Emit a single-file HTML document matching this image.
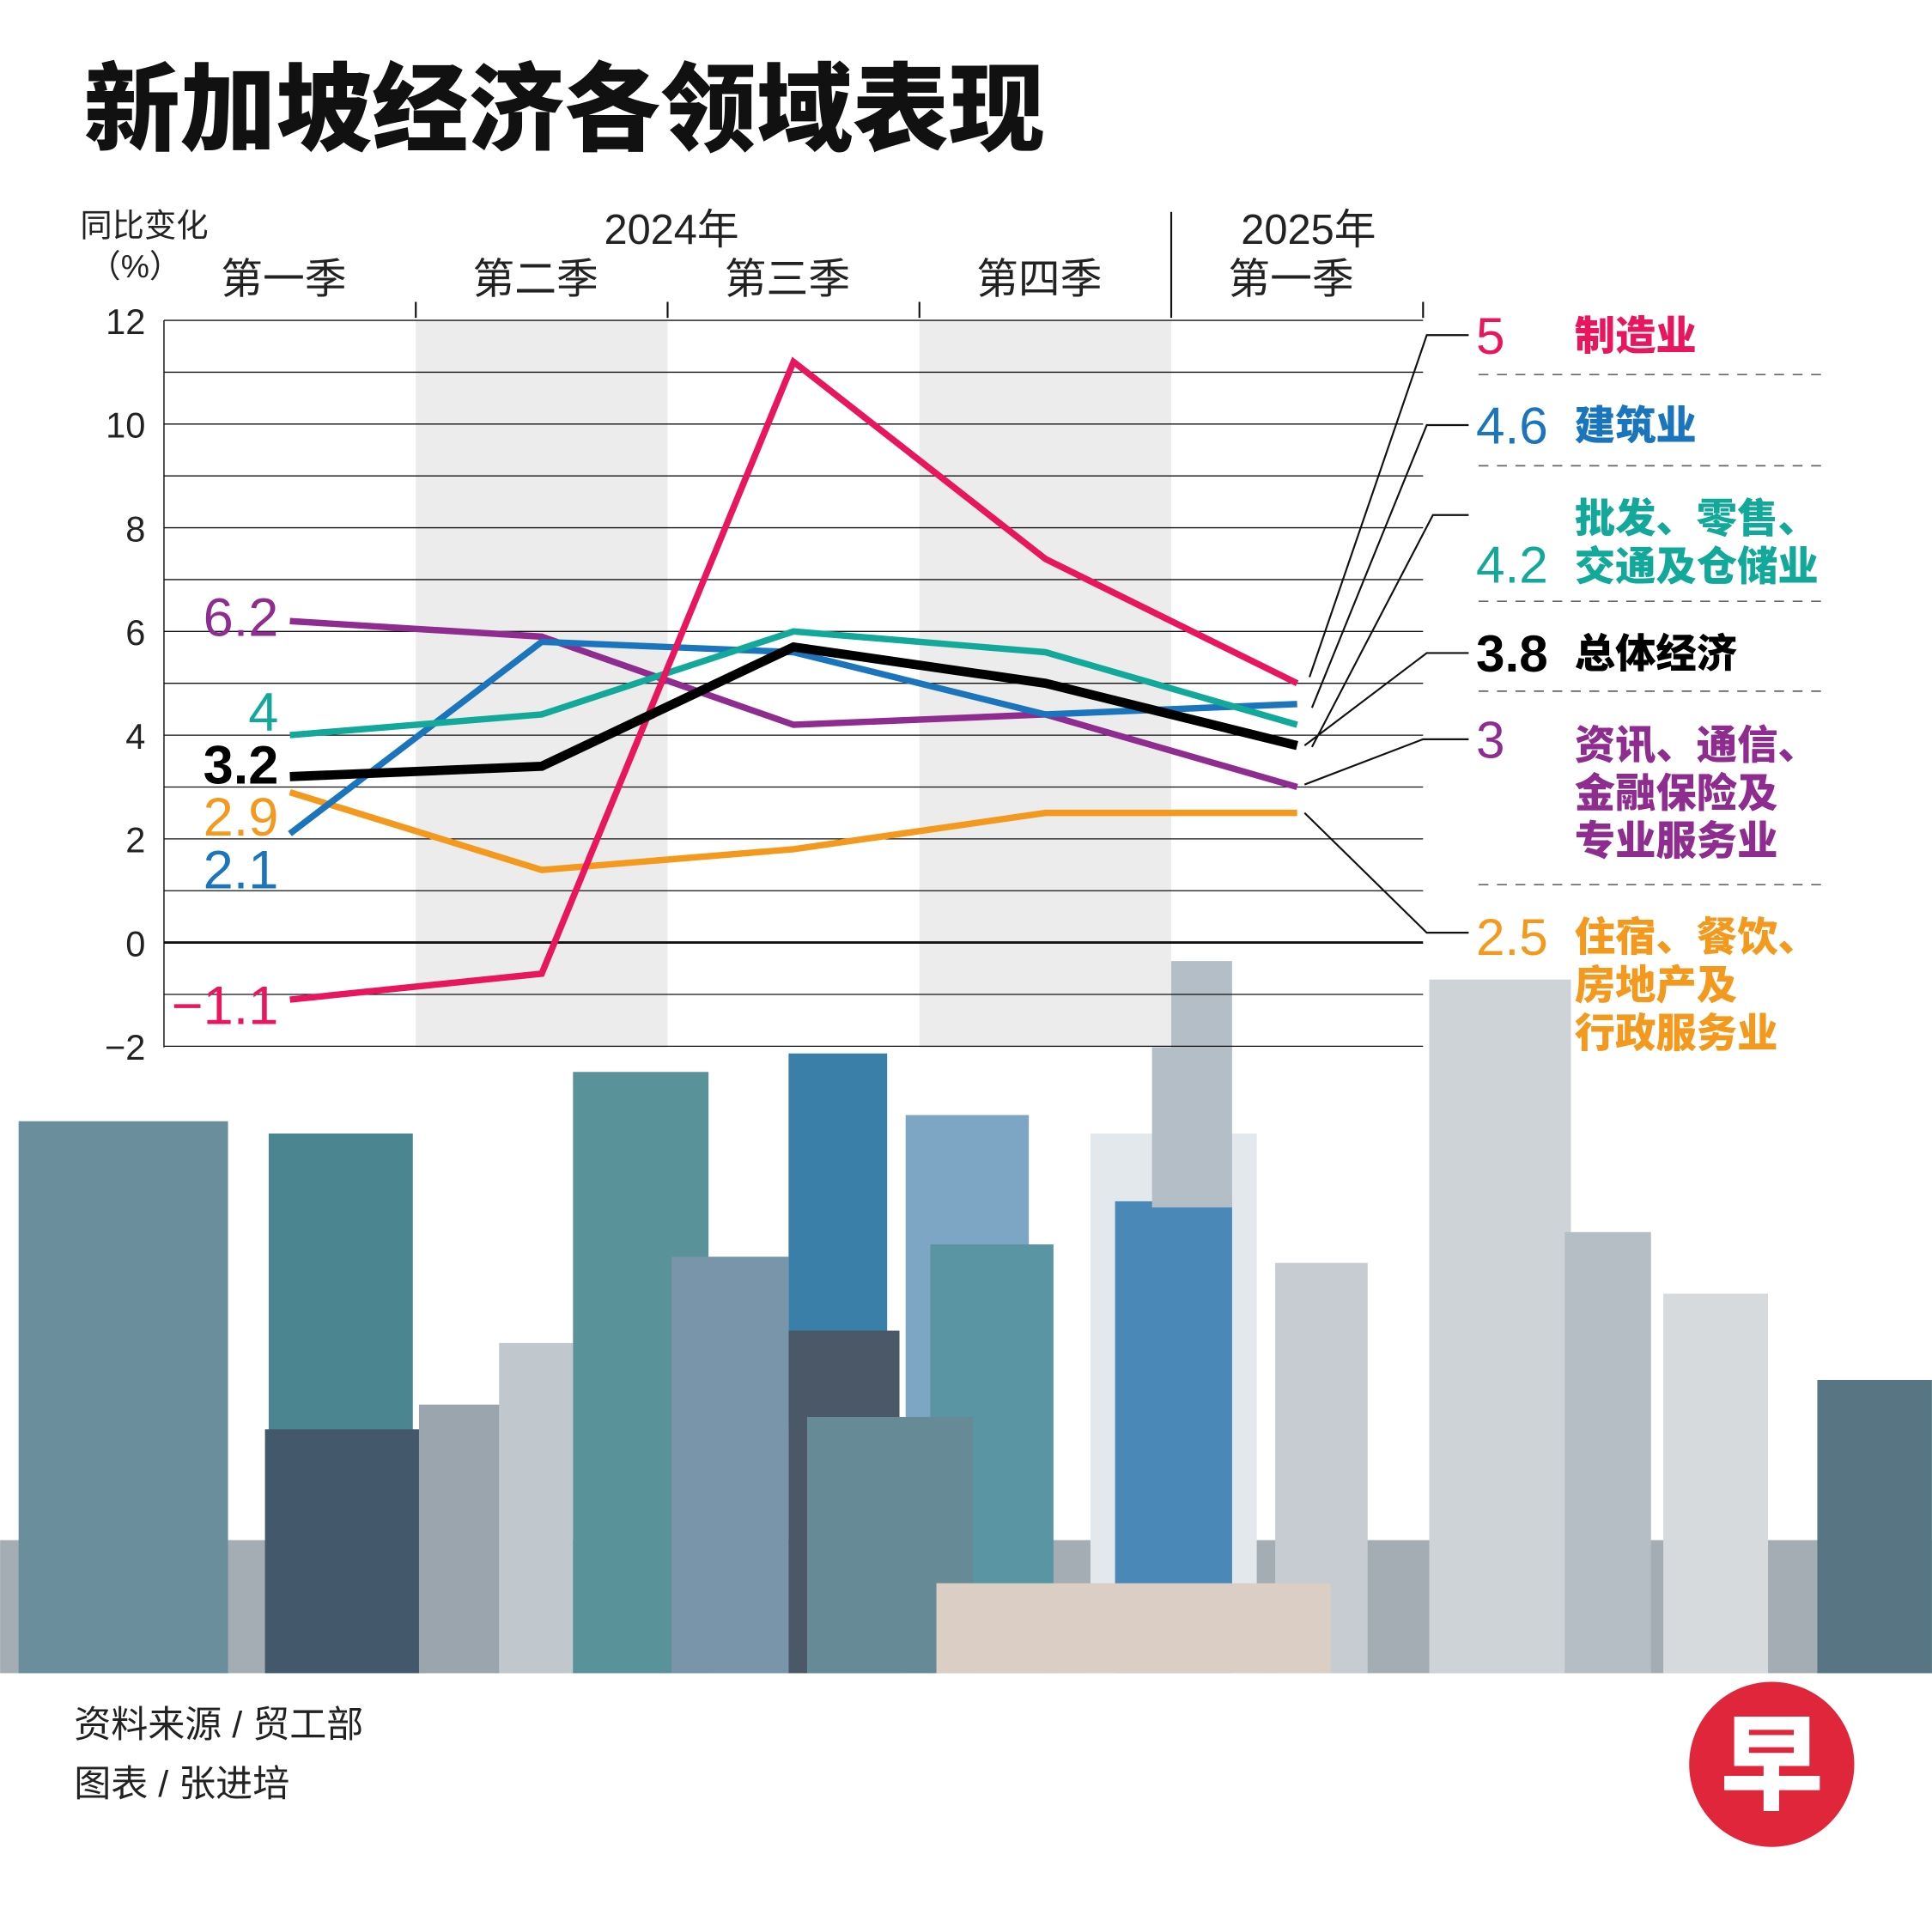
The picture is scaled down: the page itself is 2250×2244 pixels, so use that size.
<!DOCTYPE html>
<html><head><meta charset="utf-8">
<style>
html,body{margin:0;padding:0;background:#fff;}
svg{display:block;}
text{font-family:"Liberation Sans","Noto Sans CJK SC",sans-serif;}
</style></head>
<body>
<svg id="chart" width="2250" height="2244" viewBox="0 0 1568 1564" xmlns="http://www.w3.org/2000/svg">
<rect x="0" y="0" width="1568" height="1564" fill="#fff"/>
<text x="68" y="116" font-size="78" font-weight="900" fill="#111" font-family="'Noto Sans CJK SC',sans-serif">新加坡经济各领域表现</text>

<g id="skyline"></g>
<g id="plot"></g>

<text x="60" y="1410" font-size="30" fill="#222" font-family="'Noto Sans CJK SC',sans-serif">资料来源 / 贸工部</text>
<text x="60" y="1458" font-size="30" fill="#222" font-family="'Noto Sans CJK SC',sans-serif">图表 / 张进培</text>
<g>
<circle cx="1438" cy="1432" r="67" fill="#e0263a"/>
<text x="1438" y="1462" text-anchor="middle" font-size="84" font-weight="900" fill="#fff" font-family="'Noto Sans CJK SC',sans-serif">早</text>
</g>
</svg>
<script>
const quarters=["第一季","第二季","第三季","第四季","第一季"];
const yTicks=[12,10,8,6,4,2,0,-2];
const manufacturing=[-1.1,-0.6,11.2,7.4,5];
const construction=[2.1,5.8,5.6,4.4,4.6];
const wholesale=[4,4.4,6.0,5.6,4.2];
const overall=[3.2,3.4,5.7,5.0,3.8];
const infoFinance=[6.2,5.9,4.2,4.4,3.0];
const accommodation=[2.9,1.4,1.8,2.5,2.5];
const seriesNames=["manufacturing","construction","wholesale","overall","info-finance","accommodation"];
const startLabels=["-1.1","2.1","4","3.2","6.2","2.9"];
const endLabels=["5","4.6","4.2","3.8","3","2.5"];

const NS="http://www.w3.org/2000/svg";
const X0=133,X1=1155,Y0=260,Y1=850;
const colW=(X1-X0)/5;
function xs(i){return X0+colW*(i+0.5);}
function ys(v){return 765-v*(765-260)/12;}
function mk(tag,attrs,parent){const e=document.createElementNS(NS,tag);for(const k in attrs)e.setAttribute(k,attrs[k]);parent.appendChild(e);return e;}

// skyline
const sky=document.getElementById('skyline');
const bld=[[0,1250,1568,108,"#a3adb3"],[15,910,170,448,"#6a8e9b"],[218,920,117,300,"#4b8590"],[215,1160,130,198,"#44586b"],[340,1140,70,218,"#9aa5ad"],[405,1090,60,268,"#c0c8cd"],[465,870,110,488,"#5a9299"],[545,1020,95,338,"#7895aa"],[640,855,80,300,"#3a7fa8"],[640,1080,90,278,"#4a5868"],[735,905,100,300,"#7ca6c4"],[755,1010,100,348,"#5a95a3"],[655,1150,135,208,"#668b97"],[885,920,135,438,"#e3e8ec"],[905,975,95,383,"#4a88b8"],[935,780,65,200,"#b3bec6"],[1035,1025,75,333,"#c6ccd1"],[1160,795,115,563,"#cdd3d7"],[1270,1000,70,358,"#b5bec4"],[1350,1050,85,308,"#d6dadd"],[1475,1120,93,238,"#587584"],[760,1285,320,73,"#dacec5"]];
bld.forEach(b=>{const r=mk('rect',{x:b[0],y:b[1],width:b[2],height:b[3],fill:b[4]},sky);

});

const g=document.getElementById('plot');
[1,3].forEach(i=>{mk('rect',{x:X0+colW*i,y:Y0,width:colW,height:Y1-Y0,fill:"#ececec"},g);});
for(let v=12;v>=-2;v--){const l=mk('line',{x1:X0,x2:X1,y1:ys(v),y2:ys(v),stroke:"#111","stroke-width":v===0?2:0.9},g);

}
mk('line',{x1:X0,x2:X0,y1:Y0,y2:Y1,stroke:"#111","stroke-width":1},g);
yTicks.forEach(v=>{const t=mk('text',{x:118,y:ys(v)+11,"text-anchor":"end","font-size":29,fill:"#222"},g);t.textContent=v<0?"\u2212"+Math.abs(v):v;

});
const hdr=[["同比变化",65,192,26,"start"],["（%）",72,225,26,"start"],["2024年",545,198,34,"middle"],["2025年",1062,198,34,"middle"]];
hdr.forEach(h=>{const t=mk('text',{x:h[1],y:h[2],"font-size":h[3],"text-anchor":h[4],fill:"#222"},g);t.textContent=h[0];

});
quarters.forEach((q,i)=>{const t=mk('text',{x:xs(i)-5,y:238,"font-size":34,"text-anchor":"middle",fill:"#222"},g);t.textContent=q;

});
[1,2,3,5].forEach(i=>mk('line',{x1:X0+colW*i,x2:X0+colW*i,y1:245,y2:258,stroke:"#111","stroke-width":1.5},g));
mk('line',{x1:X0+colW*4,x2:X0+colW*4,y1:172,y2:258,stroke:"#111","stroke-width":1.5},g);

const series=[manufacturing,construction,wholesale,overall,infoFinance,accommodation];
const colors=["#e8175d","#1a75bc","#12a89a","#000","#8e2c8f","#f39a1e"];
const order=[4,5,1,2,0,3];
order.forEach(k=>{const d=series[k].map((v,i)=>(i?"L":"M")+xs(i)+","+ys(v)).join(" ");
const p=mk('path',{d:d,fill:"none",stroke:colors[k],"stroke-width":k===3?7.5:5.2,"stroke-linejoin":"miter"},g);

});

const slY=[815,705,577,620,500,662];
series.forEach((s,k)=>{const t=mk('text',{x:226,y:slY[k]+16,"text-anchor":"end","font-size":44,fill:colors[k],"font-weight":k===3?"bold":"normal"},g);t.textContent=startLabels[k].replace("-","\u2212");

});

const elb=[[1158,272],[1158,345],[1163,418],[1158,530],[1155,600],[1158,757]];
const tipOff=[[10,-5],[12,3],[12,18],[6,0],[6,-2],[6,0]];
series.forEach((s,k)=>{const x0=xs(4)+tipOff[k][0],y0=ys(s[4])+tipOff[k][1];
mk('polyline',{points:`${x0},${y0} ${elb[k][0]},${elb[k][1]} 1192,${elb[k][1]}`,fill:"none",stroke:"#111","stroke-width":1.5},g);});

const numY=[272,345,458,530,600,760];
const labels=[["制造业"],["建筑业"],["批发、零售、","交通及仓储业"],["总体经济"],["资讯、通信、","金融保险及","专业服务业"],["住宿、餐饮、","房地产及","行政服务业"]];
const labY=[272,345,420,530,604,760];
series.forEach((s,k)=>{const t=mk('text',{x:1198,y:numY[k]+15,"font-size":42,fill:colors[k],"font-weight":k===3?"bold":"normal"},g);t.textContent=endLabels[k];


labels[k].forEach((ln,j)=>{const u=mk('text',{x:1278,y:labY[k]+12+j*39,"font-size":33,"font-weight":900,fill:colors[k],"font-family":"'Noto Sans CJK SC',sans-serif"},g);u.textContent=ln;

});});
[304,378,488,561,718].forEach(y=>mk('line',{x1:1200,x2:1483,y1:y,y2:y,stroke:"#666","stroke-width":1.2,"stroke-dasharray":"8,7"},g));
</script>
</body></html>
